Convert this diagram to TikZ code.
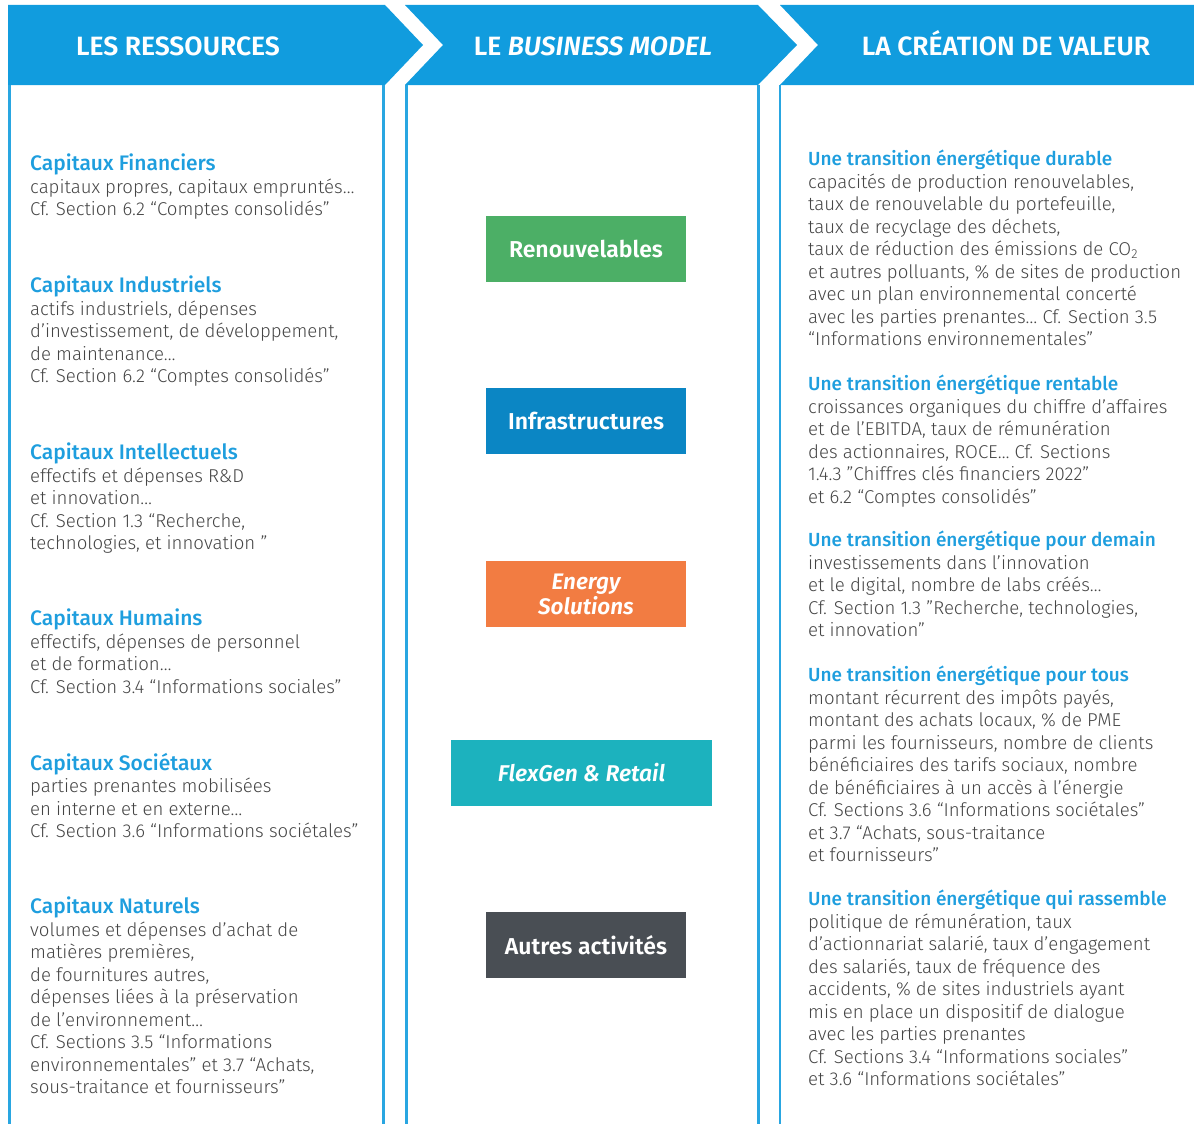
\documentclass[tikz,border=0pt]{standalone}
\usepackage{fontspec}
\setmainfont{Fira Sans}[UprightFont=* Light, ItalicFont=* Light Italic]
\newfontfamily\headfont{Fira Sans}[UprightFont=* SemiBold, ItalicFont=* SemiBold Italic]
\newfontfamily\capfont{Fira Sans}[UprightFont=* Medium]
\usepackage{tikz}
\definecolor{headblue}{HTML}{119CDE}
\definecolor{capblue}{HTML}{1E9EDE}
\definecolor{bodygray}{HTML}{454545}
\definecolor{renouvgreen}{HTML}{4CAF66}
\definecolor{infrablue}{HTML}{0B86C4}
\definecolor{solorange}{HTML}{F27C42}
\definecolor{flexteal}{HTML}{1CB2BE}
\definecolor{autregray}{HTML}{494E54}
\newcommand{\rubrique}[2][21]{{\capfont\fontsize{#1}{22.5}\selectfont\color{capblue}#2}}

\begin{document}
\begin{tikzpicture}[x=1pt,y=-1pt,
    head/.style={fill=headblue},
    headtxt/.style={anchor=base,text=white,font=\headfont\fontsize{26.5}{30}\selectfont},
    colline/.style={draw=headblue!90!white,line width=2.4pt},
    bm/.style={minimum width=200pt,minimum height=66pt,inner sep=0pt,text=white,align=center,
               font=\headfont\fontsize{23}{26}\selectfont},
    blk/.style={anchor=north west,inner sep=0pt,align=left,text=bodygray,
                font=\fontsize{18.6}{22.5}\selectfont}]
\useasboundingbox (0,0) rectangle (1194,1124);

% bandeau du haut
\fill[head] (8,5) -- (385,5) -- (423,45) -- (385,85) -- (8,85) -- cycle;
\fill[head] (405,5) -- (758,5) -- (797,45) -- (758,85) -- (405,85) -- (443,45) -- cycle;
\fill[head] (780,5) -- (1194,5) -- (1194,85) -- (780,85) -- (818,45) -- cycle;
\node[headtxt] (hres) at (178,56) {LES RESSOURCES};
\node[headtxt] (hbm) at (593,56) {LE \textit{BUSINESS MODEL}};
\node[headtxt] (hval) at (1006,56) {LA CRÉATION DE VALEUR};

% colonnes
\draw[colline] (9.5,85) -- (9.5,1124);
\draw[colline] (383.5,85) -- (383.5,1124);
\draw[colline] (406.5,85) -- (406.5,1124);
\draw[colline] (758.5,85) -- (758.5,1124);
\draw[colline] (780,85) -- (780,1124);

% les ressources
\node[blk] (fin) at (30,154) {\rubrique{Capitaux Financiers}\\
  capitaux propres, capitaux empruntés\ldots\\
  Cf. Section 6.2 “Comptes consolidés”};
\node[blk] (ind) at (30,276) {\rubrique{Capitaux Industriels}\\
  actifs industriels, dépenses\\
  d'investissement, de développement,\\
  de maintenance\ldots\\
  Cf. Section 6.2 “Comptes consolidés”};
\node[blk] (intel) at (30,443) {\rubrique{Capitaux Intellectuels}\\
  effectifs et dépenses R\&D\\
  et innovation\ldots\\
  Cf. Section 1.3 “Recherche,\\
  technologies, et innovation ”};
\node[blk] (hum) at (30,609) {\rubrique{Capitaux Humains}\\
  effectifs, dépenses de personnel\\
  et de formation\ldots\\
  Cf. Section 3.4 “Informations sociales”};
\node[blk] (soc) at (30,753) {\rubrique{Capitaux Sociétaux}\\
  parties prenantes mobilisées\\
  en interne et en externe\ldots\\
  Cf. Section 3.6 “Informations sociétales”};
\node[blk] (nat) at (30,897) {\rubrique{Capitaux Naturels}\\
  volumes et dépenses d'achat de\\
  matières premières,\\
  de fournitures autres,\\
  dépenses liées à la préservation\\
  de l'environnement\ldots\\
  Cf. Sections 3.5 “Informations\\
  environnementales” et 3.7 “Achats,\\
  sous-traitance et fournisseurs”};

% le business model
\node[bm,fill=renouvgreen] (renouv) at (586,249) {Renouvelables};
\node[bm,fill=infrablue] (infra) at (586,421) {Infrastructures};
\node[bm,fill=solorange,font=\headfont\itshape\fontsize{22.5}{25}\selectfont] (energy) at (586,594) {Energy\\Solutions};
\node[bm,fill=flexteal,minimum width=261pt,font=\headfont\itshape\fontsize{22.8}{26}\selectfont] (flex) at (581.5,773) {FlexGen \& Retail};
\node[bm,fill=autregray] (autres) at (586,945) {Autres activités};

% la creation de valeur
\node[blk] (durable) at (808,150) {\rubrique[19]{Une transition énergétique durable}\\
  capacités de production renouvelables,\\
  taux de renouvelable du portefeuille,\\
  taux de recyclage des déchets,\\
  taux de réduction des émissions de CO\textsubscript{2}\\
  et autres polluants, \% de sites de production\\
  avec un plan environnemental concerté\\
  avec les parties prenantes\ldots{} Cf. Section 3.5\\
  “Informations environnementales”};
\node[blk] (rentable) at (808,375) {\rubrique[19]{Une transition énergétique rentable}\\
  croissances organiques du chiffre d'affaires\\
  et de l'EBITDA, taux de rémunération\\
  des actionnaires, ROCE\ldots{} Cf. Sections\\
  1.4.3 "Chiffres clés financiers 2022"\\
  et 6.2 “Comptes consolidés”};
\node[blk] (demain) at (808,531) {\rubrique[19]{Une transition énergétique pour demain}\\
  investissements dans l'innovation\\
  et le digital, nombre de labs créés\ldots\\
  Cf. Section 1.3 "Recherche, technologies,\\
  et innovation”};
\node[blk] (tous) at (808,666) {\rubrique[19]{Une transition énergétique pour tous}\\
  montant récurrent des impôts payés,\\
  montant des achats locaux, \% de PME\\
  parmi les fournisseurs, nombre de clients\\
  bénéficiaires des tarifs sociaux, nombre\\
  de bénéficiaires à un accès à l'énergie\\
  Cf. Sections 3.6 “Informations sociétales”\\
  et 3.7 “Achats, sous-traitance\\
  et fournisseurs”};
\node[blk] (rassemble) at (808,890) {\rubrique[19]{Une transition énergétique qui rassemble}\\
  politique de rémunération, taux\\
  d'actionnariat salarié, taux d'engagement\\
  des salariés, taux de fréquence des\\
  accidents, \% de sites industriels ayant\\
  mis en place un dispositif de dialogue\\
  avec les parties prenantes\\
  Cf. Sections 3.4 “Informations sociales”\\
  et 3.6 “Informations sociétales”};
\end{tikzpicture}
\end{document}
